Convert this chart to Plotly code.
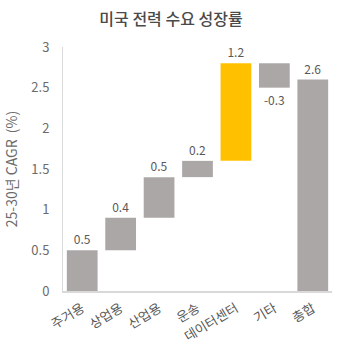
import plotly.graph_objects as go
import numpy as np

categories = ["주거용", "상업용", "산업용", "운송", "데이터센터", "기타", "총합"]
changes = [0.5, 0.4, 0.5, 0.2, 1.2, -0.3]
total = 2.6
labels = ["0.5", "0.4", "0.5", "0.2", "1.2", "-0.3", "2.6"]
colors = ["#ABA7A7", "#ABA7A7", "#ABA7A7", "#ABA7A7", "#FFC000", "#ABA7A7", "#ABA7A7"]

cum = np.cumsum([0] + changes)
bases = list(cum[:-1]) + [0]
ys = changes + [total]

FONT = "Noto Sans CJK KR"
GRAY = "#595959"

fig = go.Figure(go.Bar(
    x=categories, y=ys, base=bases,
    marker=dict(color=colors, line=dict(width=0)),
    text=labels, textposition="outside", cliponaxis=False,
    textfont=dict(size=12, color=GRAY, family=FONT),
    width=0.8,
))

fig.update_layout(
    width=342, height=360,
    margin=dict(l=63, r=10, t=47, b=69),
    paper_bgcolor="white", plot_bgcolor="white",
    showlegend=False,
    font=dict(family=FONT, color=GRAY, size=12),
    title=dict(text="미국 전력 수요 성장률", x=0.5, xanchor="center", y=0.945, yanchor="middle",
               font=dict(size=16, color="#4a4a4a", family=FONT, weight=500)),
    bargap=0.2,
)
fig.update_yaxes(range=[0, 3], tickvals=[0, 0.5, 1, 1.5, 2, 2.5, 3],
                 ticktext=["0", "0.5", "1", "1.5", "2", "2.5", "3"],
                 showgrid=False, zeroline=False, showline=True, linecolor="#D9D9D9", linewidth=1,
                 ticks="", ticklabelstandoff=10,
                 tickfont=dict(size=13, color="#6b6b6b", family=FONT),
                 title=dict(text="25-30년 CAGR\u00a0\u00a0(%)", standoff=10,
                            font=dict(size=14, color="#6b6b6b", family=FONT)))
fig.update_xaxes(showgrid=False, showline=True, linecolor="#D9D9D9", linewidth=2, ticks="",
                 tickangle=-31, ticklabelstandoff=3,
                 tickfont=dict(size=13, color=GRAY, family=FONT))

fig.write_html("out.html")
